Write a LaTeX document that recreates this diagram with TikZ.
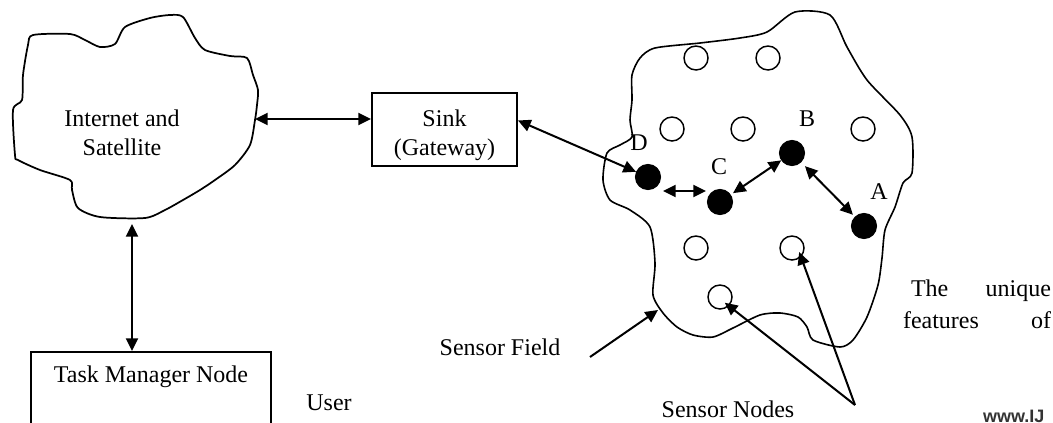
\documentclass[tikz,border=0pt]{standalone}
\usepackage{fontspec}
\setmainfont{Liberation Serif}
\newfontfamily\wmfont{Liberation Sans}
\usetikzlibrary{arrows.meta,calc}

\tikzset{every picture/.style={line width=1.5pt}}
\tikzset{
  lbl/.style={font=\fontsize{18}{21.5}\selectfont},
  box/.style={draw, line width=1.5pt, align=center, font=\fontsize{18}{21}\selectfont},
  sensor/.style={circle, draw, line width=1.1pt, minimum size=18pt, inner sep=0pt},
  hop/.style={sensor, fill=black, minimum size=18.5pt},
  link/.style={{Triangle[length=9.5pt,width=9pt]}-{Triangle[length=9.5pt,width=9pt]}, line width=1.5pt},
  pointer/.style={-{Triangle[length=9.5pt,width=9pt]}, line width=1.5pt},
}

\begin{document}
\begin{tikzpicture}[x=0.75pt,y=0.75pt,yscale=-1,xscale=1]
\useasboundingbox (0,0) rectangle (1053,422);
\clip (0,0) rectangle (1053,422);

%Shape: Cloud [internet]
\draw [line width=1.3pt] plot [smooth cycle, tension=0.45] coordinates {(33,35) (70,34) (85,40) (100,47) (115,44) (125,27) (150,18) (170,15) (183,17) (195,38) (205,50) (230,56) (247,58) (253,75) (258,90) (257,105) (255,120) (250,145) (235,165) (215,180) (200,190) (183,200) (165,210) (145,218) (100,217) (78,208) (72,190) (70,180) (40,170) (18,160) (15,155) (13,110) (22,100) (23,75) (28,45)};
\node [lbl, align=center] (inet) at (122,133) {Internet and\\Satellite};
\coordinate (inet-e) at (255,119);
\coordinate (inet-s) at (132,224);

%Shape: Blob [sensor field]
\draw [line width=1.2pt] plot [smooth cycle, tension=0.45] coordinates {(632,100) (632,75) (640,58) (655,48) (700,43) (740,38) (767,32) (795,12) (830,15) (847,47) (867,80) (900,115) (912,137) (912,173) (903,183) (895,207) (885,230) (882,258) (878,285) (867,317) (853,340) (840,347) (813,340) (807,327) (798,317) (780,313) (760,315) (733,328) (713,337) (693,335) (677,327) (663,313) (653,295) (655,263) (650,227) (630,210) (610,200) (603,180) (607,153) (620,145) (632,137) (630,120)};

%Boxes
\node [box, minimum width=108.75pt, minimum height=54.75pt] (sink) at (444.5,129.5) {};
\node [lbl, align=center] (sink-txt) at (444.5,135) {Sink\\(Gateway)};
\node [box, anchor=north, minimum width=180pt, text height=17pt, text depth=60pt, inner sep=6pt] (taskmgr) at (151,351) {Task Manager Node};

%Sensor nodes
\node [sensor] (s1) at (696,58) {};
\node [sensor] (s2) at (768,58) {};
\node [sensor] (s3) at (672,129) {};
\node [sensor] (s4) at (743,129) {};
\node [sensor] (s5) at (863,129) {};
\node [sensor] (s6) at (696,248) {};
\node [sensor] (s7) at (792,248) {};
\node [sensor] (s8) at (720,297) {};

%Route nodes
\node [hop] (D) at (648,177) {};
\node [hop] (C) at (720,202) {};
\node [hop] (B) at (792,153) {};
\node [hop] (A) at (864,226) {};
\node [lbl] (D-lbl) at (639,143) {D};
\node [lbl] (C-lbl) at (719,167) {C};
\node [lbl] (B-lbl) at (807,119) {B};
\node [lbl] (A-lbl) at (879,192) {A};

%Links
\draw [link] (inet-e) -- (inet-e -| sink.west);
\draw [link] (inet-s) -- (inet-s |- taskmgr.north);
\draw [link] (sink.7) -- (D);
\draw [link] ($(D.east)+(2,14)$) -- ($(C.west)+(-1,-11)$);
\draw [link, shorten <=2pt] (C) -- (B);
\draw [link, shorten <=4pt, shorten >=2pt] (B) -- (A);

%Pointers
\coordinate (fieldtail) at (590,357);
\coordinate (fieldtip) at (658,310);
\coordinate (nodestail) at (855,405);
\draw [pointer] (fieldtail) -- (fieldtip);
\draw [pointer, shorten >=-4pt] (nodestail) -- (s8.south east);
\draw [pointer, shorten >=-4pt] (nodestail) -- (s7.south east);

%Texts
\node [lbl] (field-lbl) at (500,347) {Sensor Field};
\node [lbl] (nodes-lbl) at (728,409) {Sensor Nodes};
\node [lbl] (user-lbl) at (329,403) {User};
\node [lbl, anchor=base west, inner sep=0pt] (feat1) at (902,296) {\makebox[111pt][l]{\hspace*{6pt}The\hfill unique}};
\node [lbl, anchor=base west, inner sep=0pt] (feat2) at (902,328) {\makebox[111pt][l]{features\hfill of}};
\node [font=\wmfont\bfseries\fontsize{13.5}{15}\selectfont, text=black!80, anchor=base west, inner sep=0pt] (wm) at (982,422) {www.IJ};
\end{tikzpicture}
\end{document}
